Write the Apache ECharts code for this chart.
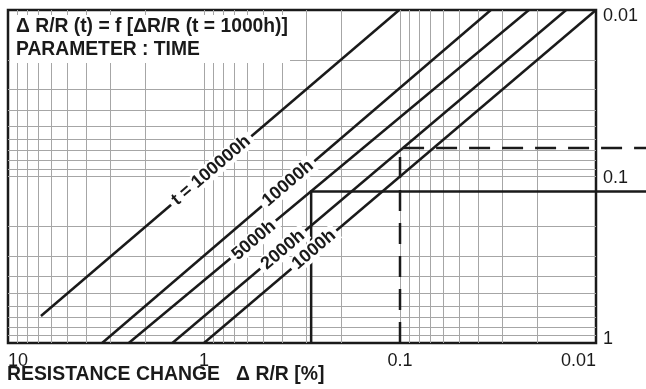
<!DOCTYPE html>
<html><head><meta charset="utf-8">
<script src="https://cdn.jsdelivr.net/npm/echarts@6/dist/echarts.min.js"></script>
<style>html,body{margin:0;padding:0;background:#fff}#c{width:646px;height:389px}</style>
</head><body><div id="c"></div>
<script>
// ---- data ----
const X_TICKS = [10, 1, 0.1, 0.01];
const Y_TICKS = [0.01, 0.1, 1];
const curveNames = ['1000h', '2000h', '5000h', '10000h', 't = 100000h'];
const line1000   = [[1, 1], [0.01, 0.01]];
const line2000   = [[1.45, 1], [0.0142, 0.01]];
const line5000   = [[2.42, 1], [0.022, 0.01]];
const line10000  = [[3.31, 1], [0.0344, 0.01]];
const line100000 = [[6.79, 0.689], [0.101, 0.01]];
const labelAt    = [[0.275, 0.275], [0.395, 0.276], [0.556, 0.242], [0.373, 0.11], [0.92, 0.092]];
// guide lines: start at the bottom, go up to the curve, then run right off the chart
const solidGuide  = [[0.284, 1], [0.284, 0.123]];
const dashedGuide = [[0.1, 1], [0.1, 0.0675]];

const FONT = "'Liberation Sans', Arial, Helvetica, sans-serif";
const INK = '#1a1a1a';
const GRIDC = '#a6a6a6';

const curves = [line1000, line2000, line5000, line10000, line100000];

const chart = echarts.init(document.getElementById('c'), null, {renderer: 'canvas'});

const series = curves.map((d, i) => ({
  type: 'line', data: d, symbol: 'none', z: 3,
  lineStyle: {color: INK, width: 2.5}, silent: true,
  markPoint: {
    symbol: 'rect', symbolSize: 1, itemStyle: {color: 'rgba(0,0,0,0)'}, z: 10,
    data: [{coord: labelAt[i], value: curveNames[i]}],
    label: {
      show: true, position: 'inside', formatter: curveNames[i], rotate: 40.35,
      fontFamily: FONT, fontSize: 18, fontWeight: 'bold', color: INK,
      backgroundColor: '#fff', padding: [0, 4]
    }
  }
}));

function near(a, b) { return Math.abs(a - b) < 1e-9 * Math.max(1, Math.abs(b)); }

const staticGraphics = [
  {id: 'box', type: 'rect', z: 100, shape: {x: 10, y: 15, width: 280, height: 48}, style: {fill: '#fff'}},
  {id: 't1', type: 'text', z: 101, x: 16, y: 27, style: {text: 'Δ R/R (t) = f [ΔR/R (t = 1000h)]',
    font: 'bold 19.3px ' + FONT, fill: INK, verticalAlign: 'middle'}},
  {id: 't2', type: 'text', z: 101, x: 16, y: 50, style: {text: 'PARAMETER : TIME',
    font: 'bold 19.3px ' + FONT, fill: INK, verticalAlign: 'middle'}},
  {id: 'xname', type: 'text', z: 101, x: 7, y: 375, style: {text: 'RESISTANCE CHANGE   Δ R/R [%]',
    font: 'bold 19.4px ' + FONT, fill: INK, verticalAlign: 'middle'}}
];

chart.setOption({
  animation: false,
  grid: {left: 8, right: 50, top: 10, bottom: 46, show: true, borderColor: INK, borderWidth: 2.5,
         containLabel: false, outerBoundsMode: 'none'},
  xAxis: {
    type: 'log', logBase: 10, min: 0.01, max: 10, inverse: true,
    axisLine: {show: false}, axisTick: {show: false},
    splitLine: {show: true, showMinLine: false, showMaxLine: false, lineStyle: {color: GRIDC, width: 1}},
    minorTick: {show: false, splitNumber: 9},
    minorSplitLine: {show: true, lineStyle: {color: GRIDC, width: 1}},
    axisLabel: {
      margin: 9, fontFamily: FONT, fontSize: 18, color: INK,
      alignMinLabel: 'right', alignMaxLabel: 'left',
      formatter: v => { const t = X_TICKS.find(k => near(v, k)); return t === undefined ? '' : String(t); }
    }
  },
  yAxis: {
    type: 'log', logBase: 10, min: 0.01, max: 1, inverse: true, position: 'right',
    axisLine: {show: false}, axisTick: {show: false},
    splitLine: {show: true, showMinLine: false, showMaxLine: false, lineStyle: {color: GRIDC, width: 1}},
    minorTick: {show: false, splitNumber: 9},
    minorSplitLine: {show: true, lineStyle: {color: GRIDC, width: 1}},
    axisLabel: {
      margin: 7, fontFamily: FONT, fontSize: 18, color: INK,
      formatter: v => {
        const t = Y_TICKS.find(k => near(v, k));
        if (t === undefined) return '';
        if (t === Y_TICKS[0]) return '{t|' + t + '}';
        if (t === Y_TICKS[Y_TICKS.length - 1]) return '{b|' + t + '}';
        return '{m|' + t + '}';
      },
      rich: {
        t: {fontFamily: FONT, fontSize: 18, color: INK, padding: [13, 0, 0, 0]},
        m: {fontFamily: FONT, fontSize: 18, color: INK, padding: [3, 0, 0, 0]},
        b: {fontFamily: FONT, fontSize: 18, color: INK, padding: [0, 0, 8, 0]}
      }
    }
  },
  graphic: staticGraphics,
  series: series
});

// guide polylines, positioned through the chart's own axes, extended to the right edge of the canvas
const W = chart.getWidth();
function guidePoints(guide) {
  const pts = guide.map(p => chart.convertToPixel({gridIndex: 0}, p));
  const last = pts[pts.length - 1];
  pts.push([W + 2, last[1]]);
  return pts;
}
chart.setOption({
  graphic: staticGraphics.concat([
    {id: 'solidGuide', type: 'polyline', z: 2, silent: true,
     shape: {points: guidePoints(solidGuide)},
     style: {stroke: INK, lineWidth: 2.5, fill: null}},
    {id: 'dashedGuide', type: 'polyline', z: 2, silent: true,
     shape: {points: guidePoints(dashedGuide)},
     style: {stroke: INK, lineWidth: 2.5, fill: null, lineDash: [21, 12]}}
  ])
});
</script>
</body></html>
